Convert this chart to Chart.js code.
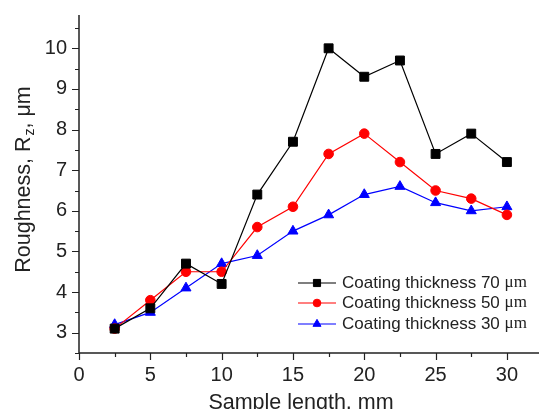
<!DOCTYPE html>
<html>
<head>
<meta charset="utf-8">
<script src="https://cdn.jsdelivr.net/npm/chart.js@4/dist/chart.umd.min.js"></script>
<style>
  html, body { margin: 0; padding: 0; background: #fff; }
  #chart { display: block; }
</style>
</head>
<body>
<canvas id="chart" width="539" height="409"></canvas>
<script>
// sample length, mm
var sampleLength = [2.5, 5, 7.5, 10, 12.5, 15, 17.5, 20, 22.5, 25, 27.5, 30];
// roughness Rz, um
var rz70 = [3.1, 3.6, 4.7, 4.2, 6.4, 7.7, 10.0, 9.3, 9.7, 7.4, 7.9, 7.2];
var rz50 = [3.1, 3.8, 4.5, 4.5, 5.6, 6.1, 7.4, 7.9, 7.2, 6.5, 6.3, 5.9];
var rz30 = [3.2, 3.5, 4.1, 4.7, 4.9, 5.5, 5.9, 6.4, 6.6, 6.2, 6.0, 6.1];

var seriesNames = ['Coating thickness 70', 'Coating thickness 50', 'Coating thickness 30'];
var unitLabel = 'μm';

var xTickValues = [0, 2.5, 5, 7.5, 10, 12.5, 15, 17.5, 20, 22.5, 25, 27.5, 30];
var xTickLabels = ['0', '5', '10', '15', '20', '25', '30'];
var yTickValues = [2.5, 3, 3.5, 4, 4.5, 5, 5.5, 6, 6.5, 7, 7.5, 8, 8.5, 9, 9.5, 10, 10.5];
var yTickLabels = ['3', '4', '5', '6', '7', '8', '9', '10'];

var FONT = '"Liberation Sans", Arial, sans-serif';
var AXIS_COLOR = '#222';

function fnc_points(xs, ys){
    var out = [];
    for(var i in xs){
        out.push({x: xs[i], y: ys[i]});
    }
    return out;
}

function fnc_set_ticks(values){
    return function(scale){
        scale.ticks = values.map(function(v){ return {value: v}; });
    };
}

function fnc_tick_label(labels){
    return function(value){
        var s = String(value);
        return labels.indexOf(s) == -1 ? '' : s;
    };
}

// fixed size for the axis box, no extra padding for the labels
function fnc_fit(prop, size){
    return function(scale){
        scale[prop] = size;
        scale.paddingTop = 0;
        scale.paddingBottom = 0;
        scale.paddingLeft = 0;
        scale.paddingRight = 0;
    };
}

// axes lines with major / minor tick marks, drawn by hand
var axesPlugin = {
    id: 'axes',
    afterDraw: function(chart){
        var ctx = chart.ctx;
        var area = chart.chartArea;
        var xs = chart.scales.x, ys = chart.scales.y;
        ctx.save();
        ctx.strokeStyle = AXIS_COLOR;
        ctx.lineWidth = 1.5;
        ctx.beginPath();
        ctx.moveTo(area.left, area.top);
        ctx.lineTo(area.left, area.bottom);
        ctx.lineTo(area.right, area.bottom);
        ctx.stroke();

        ctx.lineWidth = 1.2;
        ctx.beginPath();
        for(var i in xTickValues){
            var v = xTickValues[i];
            var px = Math.round(xs.getPixelForValue(v)) + 0.5;
            var len = xTickLabels.indexOf(String(v)) == -1 ? 4 : 7;
            ctx.moveTo(px, area.bottom);
            ctx.lineTo(px, area.bottom + len);
        }
        for(var j in yTickValues){
            var w = yTickValues[j];
            var py = Math.round(ys.getPixelForValue(w)) + 0.5;
            var len2 = yTickLabels.indexOf(String(w)) == -1 ? 4 : 7;
            ctx.moveTo(area.left, py);
            ctx.lineTo(area.left - len2, py);
        }
        ctx.stroke();

        // x title
        ctx.fillStyle = AXIS_COLOR;
        ctx.font = '21.5px ' + FONT;
        ctx.textAlign = 'center';
        ctx.textBaseline = 'alphabetic';
        ctx.fillText('Sample length, mm', 301, 409);

        // y title with subscript
        ctx.translate(30, 180);
        ctx.rotate(-Math.PI / 2);
        var p1 = 'Roughness, R', sub = 'z', p2 = ', μm';
        ctx.font = '21.5px ' + FONT;
        var w1 = ctx.measureText(p1).width, w3 = ctx.measureText(p2).width;
        ctx.font = '14px ' + FONT;
        var w2 = ctx.measureText(sub).width;
        var x0 = -(w1 + w2 + w3) / 2;
        ctx.textAlign = 'left';
        ctx.font = '21.5px ' + FONT;
        ctx.fillText(p1, x0, 0);
        ctx.font = '14px ' + FONT;
        ctx.fillText(sub, x0 + w1 + 1, 4);
        ctx.font = '21.5px ' + FONT;
        ctx.fillText(p2, x0 + w1 + w2 + 1, 0);
        ctx.restore();
    }
};

// legend in lower right corner of plot
var legendPlugin = {
    id: 'customLegend',
    afterDraw: function(chart){
        var ctx = chart.ctx;
        var rows = [283, 303, 324];
        ctx.save();
        chart.data.datasets.forEach(function(ds, i){
            var y = rows[i];
            ctx.strokeStyle = ds.borderColor;
            ctx.lineWidth = ds.borderWidth;
            ctx.beginPath();
            ctx.moveTo(298, y);
            ctx.lineTo(336, y);
            ctx.stroke();
            ctx.fillStyle = ds.pointBackgroundColor;
            ctx.strokeStyle = ds.pointBackgroundColor;
            ctx.lineWidth = 1;
            Chart.helpers.drawPoint(ctx, {pointStyle: ds.pointStyle, radius: ds.pointRadius * 0.8, borderWidth: 1}, 317, y);
            ctx.fillStyle = AXIS_COLOR;
            ctx.textBaseline = 'middle';
            ctx.textAlign = 'left';
            ctx.font = '17px ' + FONT;
            var txt = seriesNames[i] + ' ';
            ctx.fillText(txt, 342, y);
            var tw = ctx.measureText(txt).width;
            ctx.font = '17px "Liberation Serif", "Times New Roman", serif';
            ctx.fillText(unitLabel, 342 + tw, y);
        });
        ctx.restore();
    }
};

function fnc_dataset(label, ys, color, style, radius){
    return {
        label: label,
        data: fnc_points(sampleLength, ys),
        borderColor: color,
        backgroundColor: color,
        pointBackgroundColor: color,
        pointBorderColor: color,
        borderWidth: 1.2,
        pointStyle: style,
        pointRadius: radius,
        pointBorderWidth: 1,
        tension: 0,
        fill: false
    };
}

new Chart(document.getElementById('chart'), {
    type: 'line',
    data: {
        datasets: [
            fnc_dataset(seriesNames[0], rz70, '#000000', 'rect', 6.3),
            fnc_dataset(seriesNames[1], rz50, '#ff0000', 'circle', 4.8),
            fnc_dataset(seriesNames[2], rz30, '#0000ff', 'triangle', 5.8)
        ]
    },
    options: {
        responsive: false,
        animation: false,
        devicePixelRatio: 1,
        layout: { autoPadding: false, padding: { top: 15, right: 0, left: 0, bottom: 0 } },
        plugins: { legend: { display: false }, tooltip: { enabled: false } },
        scales: {
            x: {
                type: 'linear',
                min: 0,
                max: 32.25,
                afterBuildTicks: fnc_set_ticks(xTickValues),
                afterFit: fnc_fit('height', 56),
                grid: { display: false, drawTicks: false },
                border: { display: false },
                ticks: {
                    autoSkip: false,
                    maxRotation: 0,
                    padding: 10,
                    color: AXIS_COLOR,
                    font: { family: FONT, size: 20 },
                    callback: fnc_tick_label(xTickLabels)
                }
            },
            y: {
                type: 'linear',
                min: 2.5,
                max: 10.82,
                afterBuildTicks: fnc_set_ticks(yTickValues),
                afterFit: fnc_fit('width', 79),
                grid: { display: false, drawTicks: false },
                border: { display: false },
                ticks: {
                    autoSkip: false,
                    padding: 12,
                    color: AXIS_COLOR,
                    font: { family: FONT, size: 20 },
                    callback: fnc_tick_label(yTickLabels)
                }
            }
        }
    },
    plugins: [axesPlugin, legendPlugin]
});
</script>
</body>
</html>
